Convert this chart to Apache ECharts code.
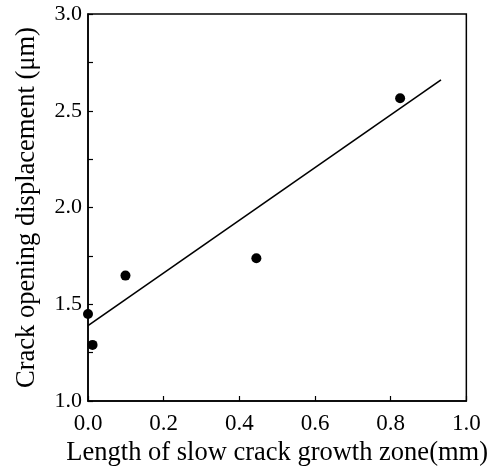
<!DOCTYPE html>
<html>
<head>
<meta charset="utf-8">
<script src="https://cdn.jsdelivr.net/npm/echarts@6/dist/echarts.min.js"></script>
<style>html,body{margin:0;padding:0;background:#fff}#c{width:491px;height:472px}</style>
</head>
<body>
<div id="c"></div>
<script>
var xTitle = 'Length of slow crack growth zone(mm)';
var yTitle = 'Crack opening displacement (\u03bcm)';
var pointsX = [0.0, 0.012, 0.099, 0.445, 0.825];
var pointsY = [1.45, 1.29, 1.648, 1.738, 2.565];
var fitX = [0.0, 0.933];
var fitY = [1.39, 2.66];

var font = 'Liberation Serif';
var chart = echarts.init(document.getElementById('c'), null, {renderer: 'canvas'});
chart.setOption({
  animation: false,
  backgroundColor: '#fff',
  grid: {left: 88, right: 22, top: 14, bottom: 65, show: true, borderColor: '#000', borderWidth: 1.5, backgroundColor: 'transparent'},
  xAxis: {
    type: 'value', min: 0, max: 1, interval: 0.2,
    name: xTitle, nameLocation: 'middle', nameGap: 39,
    nameTextStyle: {fontFamily: font, fontSize: 26.5, color: '#000'},
    axisLine: {show: true, lineStyle: {color: '#000', width: 1.5}},
    axisTick: {show: true, inside: true, length: 5, lineStyle: {color: '#000', width: 1.2}},
    axisLabel: {fontFamily: font, fontSize: 23, color: '#000', margin: 11, formatter: function(v){return v.toFixed(1);}},
    splitLine: {show: false}
  },
  yAxis: {
    type: 'value', min: 1, max: 3, interval: 0.25,
    name: yTitle, nameLocation: 'middle', nameGap: 47,
    nameTextStyle: {fontFamily: font, fontSize: 26.5, color: '#000'},
    axisLine: {show: true, lineStyle: {color: '#000', width: 1.5}},
    axisTick: {show: true, inside: true, length: 5, lineStyle: {color: '#000', width: 1.2}},
    axisLabel: {fontFamily: font, fontSize: 22, color: '#000', margin: 6, formatter: function(v){return (Math.round(v*100)%50===0) ? v.toFixed(1) : '';}},
    splitLine: {show: false}
  },
  series: [
    {type: 'line', data: fitX.map(function(x,i){return [x, fitY[i]];}), showSymbol: false, symbol: 'none',
     lineStyle: {color: '#000', width: 1.6}},
    {type: 'scatter', data: pointsX.map(function(x,i){return [x, pointsY[i]];}), symbol: 'circle', symbolSize: 10,
     itemStyle: {color: '#000', opacity: 1}}
  ]
});
</script>
</body>
</html>
